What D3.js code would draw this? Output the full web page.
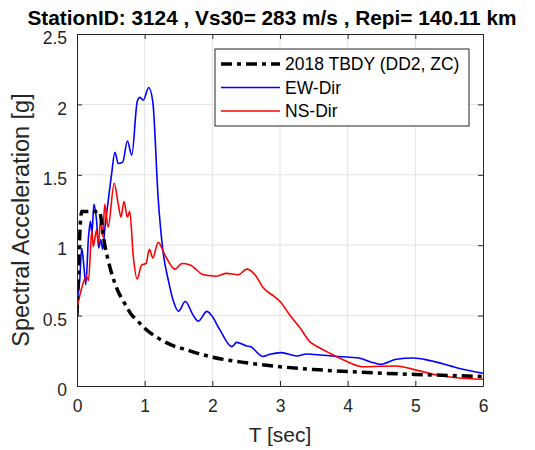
<!DOCTYPE html>
<html>
<head>
<meta charset="utf-8">
<script src="https://cdn.jsdelivr.net/npm/d3@7"></script>
<style>
  body { margin: 0; background: #fff; }
  svg { display: block; font-family: Arial, "Liberation Sans", sans-serif; }
</style>
</head>
<body>
<svg width="535" height="450"></svg>
<script>
"use strict"

// подписи
const titleText = "StationID: 3124 , Vs30= 283 m/s , Repi= 140.11 km"
const xLabel = "T [sec]"
const yLabel = "Spectral Acceleration [g]"
const legendNames = ["2018 TBDY (DD2, ZC)", "EW-Dir", "NS-Dir"]

const xTicks = [0, 1, 2, 3, 4, 5, 6]
const yTicks = [0, 0.5, 1, 1.5, 2, 2.5]

// спектр TBDY
const tbdyT  = [0, 0.07, 0.33, 0.4, 0.5, 0.6, 0.7, 0.8, 0.9, 1.0, 1.2, 1.4, 1.6, 1.8, 2.0, 2.5, 3.0, 3.5, 4.0, 4.5, 5.0, 5.5, 6.0]
const tbdySa = [0.50, 1.24, 1.24, 1.03, 0.82, 0.68, 0.59, 0.51, 0.46, 0.41, 0.34, 0.29, 0.26, 0.23, 0.205, 0.165, 0.137, 0.117, 0.103, 0.091, 0.082, 0.075, 0.068]

// EW
const ewT  = [0, 0.04, 0.07, 0.10, 0.13, 0.17, 0.20, 0.22, 0.25, 0.29, 0.32, 0.35, 0.38, 0.41, 0.46, 0.51, 0.56, 0.61, 0.675, 0.745, 0.81, 0.89, 0.93, 0.98, 1.06, 1.12, 1.20, 1.27, 1.35, 1.42, 1.50, 1.60, 1.72, 1.79, 1.92, 1.99, 2.11, 2.29, 2.36, 2.51, 2.56, 2.75, 2.85, 3.02, 3.25, 3.39, 3.64, 4.03, 4.18, 4.33, 4.48, 4.72, 4.97, 5.22, 5.61, 6.0]
const ewSa = [0.62, 0.75, 0.98, 0.86, 0.72, 1.06, 1.17, 1.08, 1.29, 1.17, 0.98, 1.04, 0.97, 1.11, 1.31, 1.50, 1.66, 1.58, 1.59, 1.74, 1.64, 2.02, 2.05, 2.03, 2.12, 2.02, 1.33, 0.96, 0.75, 0.61, 0.53, 0.60, 0.50, 0.46, 0.53, 0.50, 0.40, 0.28, 0.31, 0.284, 0.28, 0.21, 0.225, 0.237, 0.213, 0.227, 0.218, 0.204, 0.197, 0.173, 0.154, 0.19, 0.199, 0.18, 0.13, 0.09]

// NS
const nsT  = [0, 0.05, 0.09, 0.14, 0.17, 0.22, 0.24, 0.29, 0.315, 0.35, 0.38, 0.41, 0.46, 0.55, 0.61, 0.65, 0.695, 0.745, 0.78, 0.83, 0.89, 0.955, 1.02, 1.07, 1.12, 1.20, 1.30, 1.45, 1.55, 1.67, 1.87, 2.06, 2.21, 2.38, 2.51, 2.63, 2.75, 2.93, 3.0, 3.15, 3.30, 3.44, 3.57, 3.74, 3.94, 4.23, 4.48, 4.72, 4.97, 5.32, 5.61, 6.0]
const nsSa = [0.56, 0.66, 0.73, 0.78, 0.75, 1.11, 0.99, 1.11, 1.01, 1.18, 1.06, 1.29, 1.13, 1.44, 1.29, 1.20, 1.31, 1.20, 1.24, 0.93, 0.76, 0.86, 0.87, 0.97, 0.91, 1.02, 0.93, 0.83, 0.87, 0.86, 0.79, 0.78, 0.80, 0.79, 0.83, 0.79, 0.70, 0.63, 0.60, 0.50, 0.41, 0.315, 0.275, 0.232, 0.185, 0.137, 0.14, 0.142, 0.118, 0.078, 0.059, 0.048]

const series = [
    { name: legendNames[1], T: ewT, Sa: ewSa, color: "#0000ff", width: 1.6, dash: null },
    { name: legendNames[2], T: nsT, Sa: nsSa, color: "#ff0000", width: 1.6, dash: null },
    { name: legendNames[0], T: tbdyT, Sa: tbdySa, color: "#000000", width: 3.5, dash: "11,5,4,5" }
]

const axisColor = "#262626"

let svg = d3.select("svg")

// область графика
const area = { left: 77, right: 483, top: 34, bottom: 386 }

const scX = d3.scaleLinear().domain([0, 6]).range([area.left, area.right])
const scY = d3.scaleLinear().domain([0, 2.5]).range([area.bottom, area.top])

// сетка
svg.append("g")
    .selectAll("line")
    .data(xTicks.slice(1, -1))
    .enter().append("line")
    .attr("x1", d => scX(d)).attr("x2", d => scX(d))
    .attr("y1", area.top).attr("y2", area.bottom)
    .style("stroke", "#e3e3e3").style("stroke-width", 1)

svg.append("g")
    .selectAll("line")
    .data(yTicks.slice(1, -1))
    .enter().append("line")
    .attr("x1", area.left).attr("x2", area.right)
    .attr("y1", d => scY(d)).attr("y2", d => scY(d))
    .style("stroke", "#e3e3e3").style("stroke-width", 1)

// линии
svg.append("clipPath").attr("id", "clip")
    .append("rect")
    .attr("x", area.left).attr("y", area.top)
    .attr("width", area.right - area.left).attr("height", area.bottom - area.top)

const lineF = d3.line()
    .x(d => scX(d[0]))
    .y(d => scY(d[1]))
    .curve(d3.curveMonotoneX)

series.forEach(s => {
    svg.append("path")
        .datum(s.T.map((t, i) => [t, s.Sa[i]]))
        .attr("d", lineF)
        .attr("clip-path", "url(#clip)")
        .style("fill", "none")
        .style("stroke", s.color)
        .style("stroke-width", s.width)
        .style("stroke-dasharray", s.dash)
})

// оси: рамка и засечки внутрь
const fmt = d3.format("~g")
const axisX = d3.axisBottom(scX).tickValues(xTicks).tickSizeInner(-5).tickSizeOuter(0).tickPadding(14).tickFormat(fmt)
const axisY = d3.axisLeft(scY).tickValues(yTicks).tickSizeInner(-5).tickSizeOuter(0).tickPadding(10).tickFormat(fmt)

const gx = svg.append("g").attr("transform", `translate(0, ${area.bottom})`).call(axisX)
const gy = svg.append("g").attr("transform", `translate(${area.left}, 0)`).call(axisY)
gy.selectAll("text").attr("dy", "0.55em")

svg.append("g").attr("transform", `translate(0, ${area.top})`)
    .call(d3.axisTop(scX).tickValues(xTicks).tickSizeInner(-5).tickSizeOuter(0).tickFormat(""))
svg.append("g").attr("transform", `translate(${area.right}, 0)`)
    .call(d3.axisRight(scY).tickValues(yTicks).tickSizeInner(-5).tickSizeOuter(0).tickFormat(""))

svg.selectAll(".domain, .tick line").style("stroke", axisColor)
svg.selectAll(".tick text")
    .style("fill", axisColor)
    .style("font-size", "17.5px")
    .style("font-family", "Arial, 'Liberation Sans', sans-serif")

// подписи осей
svg.append("text")
    .attr("x", (area.left + area.right) / 2)
    .attr("y", 442)
    .attr("text-anchor", "middle")
    .style("font-size", "21px")
    .style("fill", axisColor)
    .text(xLabel)

svg.append("text")
    .attr("transform", `translate(29, 220) rotate(-90)`)
    .attr("text-anchor", "middle")
    .style("font-size", "23.5px")
    .style("fill", axisColor)
    .text(yLabel)

// заголовок
svg.append("text")
    .attr("x", 272)
    .attr("y", 25)
    .attr("text-anchor", "middle")
    .style("font-size", "20.8px")
    .style("font-weight", "bold")
    .style("fill", "#000")
    .text(titleText)

// легенда
const lg = svg.append("g").attr("class", "legend-container")
lg.append("rect")
    .attr("x", 215).attr("y", 49)
    .attr("width", 254).attr("height", 77)
    .style("fill", "#fff")
    .style("stroke", axisColor)
    .style("stroke-width", 1)

const legendItems = [series[2], series[0], series[1]]
const item = lg.selectAll(".legend-item")
    .data(legendItems)
    .enter().append("g")
    .attr("class", "legend-item")
    .attr("transform", (d, i) => `translate(221, ${64 + i * 23.5})`)

item.append("line")
    .attr("x1", 0).attr("x2", 59)
    .attr("y1", 0).attr("y2", 0)
    .style("stroke", d => d.color)
    .style("stroke-width", d => d.width)
    .style("stroke-dasharray", d => d.dash)

item.append("text")
    .attr("x", 64)
    .attr("y", 6)
    .style("font-size", "17.5px")
    .style("fill", "#000")
    .text(d => d.name)
</script>
</body>
</html>
